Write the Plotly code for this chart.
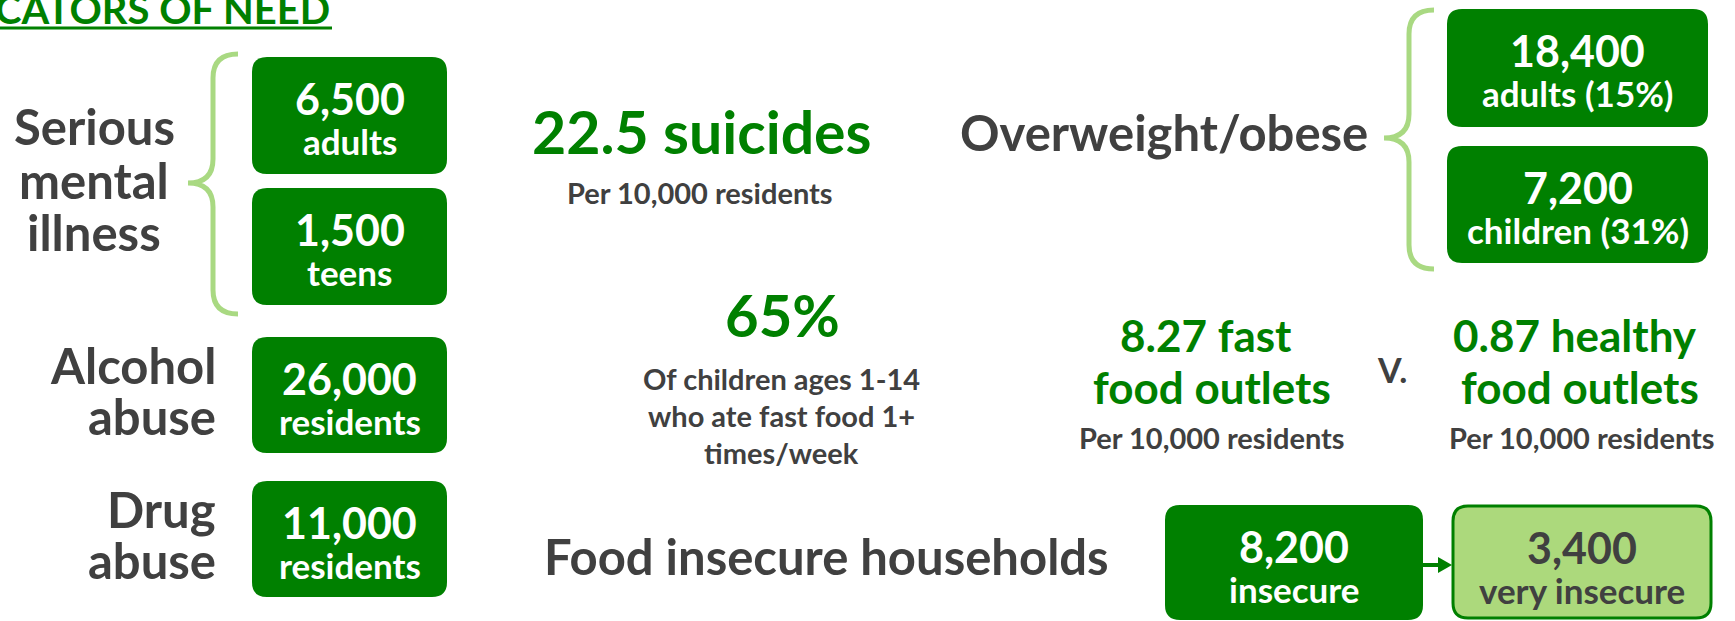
import plotly.graph_objects as go

W, H = 1735, 621
GREEN = "#008000"
LIGHT = "#acd97c"
BRACE = "#a9d982"
GRAY = "#404040"
FONT = "Lato"

# ---- figures shown in the boxes ----
box_values = ["6,500", "1,500", "26,000", "11,000", "18,400", "7,200", "8,200", "3,400"]
box_labels = ["adults", "teens", "residents", "residents",
              "adults (15%)", "children (31%)", "insecure", "very insecure"]

# ---- headline statistics ----
suicide_rate = "22.5"
fastfood_share = "65%"
fast_outlets = "8.27"
healthy_outlets = "0.87"

# box geometry (x0, y0, x1, y1) in page pixels, y measured from the top
box_geom = [
    (252, 57, 447, 174),
    (252, 188, 447, 305),
    (252, 337, 447, 453),
    (252, 481, 447, 597),
    (1447, 9, 1708, 127),
    (1447, 146, 1708, 263),
    (1165, 505, 1423, 620),
    (1453, 506, 1711, 618),
]
box_fill = [GREEN] * 7 + [LIGHT]
box_text = ["white"] * 7 + [GRAY]


def rounded(x0, y0, x1, y1, r):
    return (f"M{x0+r},{y0} L{x1-r},{y0} Q{x1},{y0} {x1},{y0+r} "
            f"L{x1},{y1-r} Q{x1},{y1} {x1-r},{y1} L{x0+r},{y1} "
            f"Q{x0},{y1} {x0},{y1-r} L{x0},{y0+r} Q{x0},{y0} {x0+r},{y0} Z")


def brace(xl, xm, xr, yt, ytip, yb, r):
    return (f"M{xr},{yt} Q{xm},{yt} {xm},{yt+r} L{xm},{ytip-r} "
            f"Q{xm},{ytip} {xl},{ytip} Q{xm},{ytip} {xm},{ytip+r} "
            f"L{xm},{yb-r} Q{xm},{yb} {xr},{yb}")


fig = go.Figure()
shapes = []
annotations = []


def txt(x, y, s, size, color=GRAY, xanchor="center"):
    annotations.append(dict(
        x=x, y=y, xref="x", yref="y", text=f"<b>{s}</b>", showarrow=False,
        xanchor=xanchor, yanchor="middle",
        font=dict(family=FONT, size=size, color=color)))


# boxes with their numbers
for (x0, y0, x1, y1), val, lab, fill, tc in zip(box_geom, box_values, box_labels, box_fill, box_text):
    line = dict(color=GREEN, width=3) if fill == LIGHT else dict(width=0)
    shapes.append(dict(type="path", path=rounded(x0, y0, x1, y1, 15),
                       fillcolor=fill, line=line, layer="below"))
    cx = (x0 + x1) / 2
    txt(cx, y0 + 41, val, 43, tc)
    txt(cx, y0 + 83.5, lab, 35, tc)

# braces
shapes.append(dict(type="path", path=brace(188, 213, 238, 54, 183, 314, 24),
                   line=dict(color=BRACE, width=5)))
shapes.append(dict(type="path", path=brace(1384, 1409, 1434, 10, 138, 269, 24),
                   line=dict(color=BRACE, width=5)))

# arrow between the food-insecurity boxes
shapes.append(dict(type="line", x0=1423, x1=1440, y0=565, y1=565,
                   line=dict(color=GREEN, width=4)))
shapes.append(dict(type="path", path="M1438,557 L1452,565 L1438,573 Z",
                   fillcolor=GREEN, line=dict(width=0)))

# title (underlined)
txt(332, 9, "CATORS OF NEED", 40, GREEN, xanchor="right")
shapes.append(dict(type="line", x0=0, x1=332, y0=28, y1=28,
                   line=dict(color=GREEN, width=3)))

# left headings
for s, y in zip(["Serious", "mental", "illness"], [126, 180, 232]):
    txt(94, y, s, 49)
txt(218, 365, "Alcohol", 49, xanchor="right")
txt(218, 416, "abuse", 49, xanchor="right")
txt(218, 509, "Drug", 49, xanchor="right")
txt(218, 560, "abuse", 49, xanchor="right")

# middle statistics
txt(702, 131, f"{suicide_rate} suicides", 59, GREEN)
txt(700, 192, "Per 10,000 residents", 29)
txt(782, 314, fastfood_share, 58, GREEN)
for s, y in zip(["Of children ages 1-14", "who ate fast food 1+", "times/week"], [378, 415, 452]):
    txt(781, y, s, 29)

# right side
txt(1164, 132, "Overweight/obese", 49)
txt(1206, 335, f"{fast_outlets} fast", 44, GREEN)
txt(1212, 387, "food outlets", 44, GREEN)
txt(1212, 437, "Per 10,000 residents", 29)
txt(1392, 369, "V.", 34)
txt(1575, 335, f"{healthy_outlets} healthy", 44, GREEN)
txt(1580, 387, "food outlets", 44, GREEN)
txt(1582, 437, "Per 10,000 residents", 29)
txt(826, 556, "Food insecure households", 49)

fig.update_layout(
    width=W, height=H, margin=dict(l=0, r=0, t=0, b=0),
    paper_bgcolor="white", plot_bgcolor="white",
    xaxis=dict(range=[0, W], visible=False, fixedrange=True),
    yaxis=dict(range=[H, 0], visible=False, fixedrange=True),
    shapes=shapes, annotations=annotations, showlegend=False,
)
fig.write_html("out.html", config={"displayModeBar": False})
